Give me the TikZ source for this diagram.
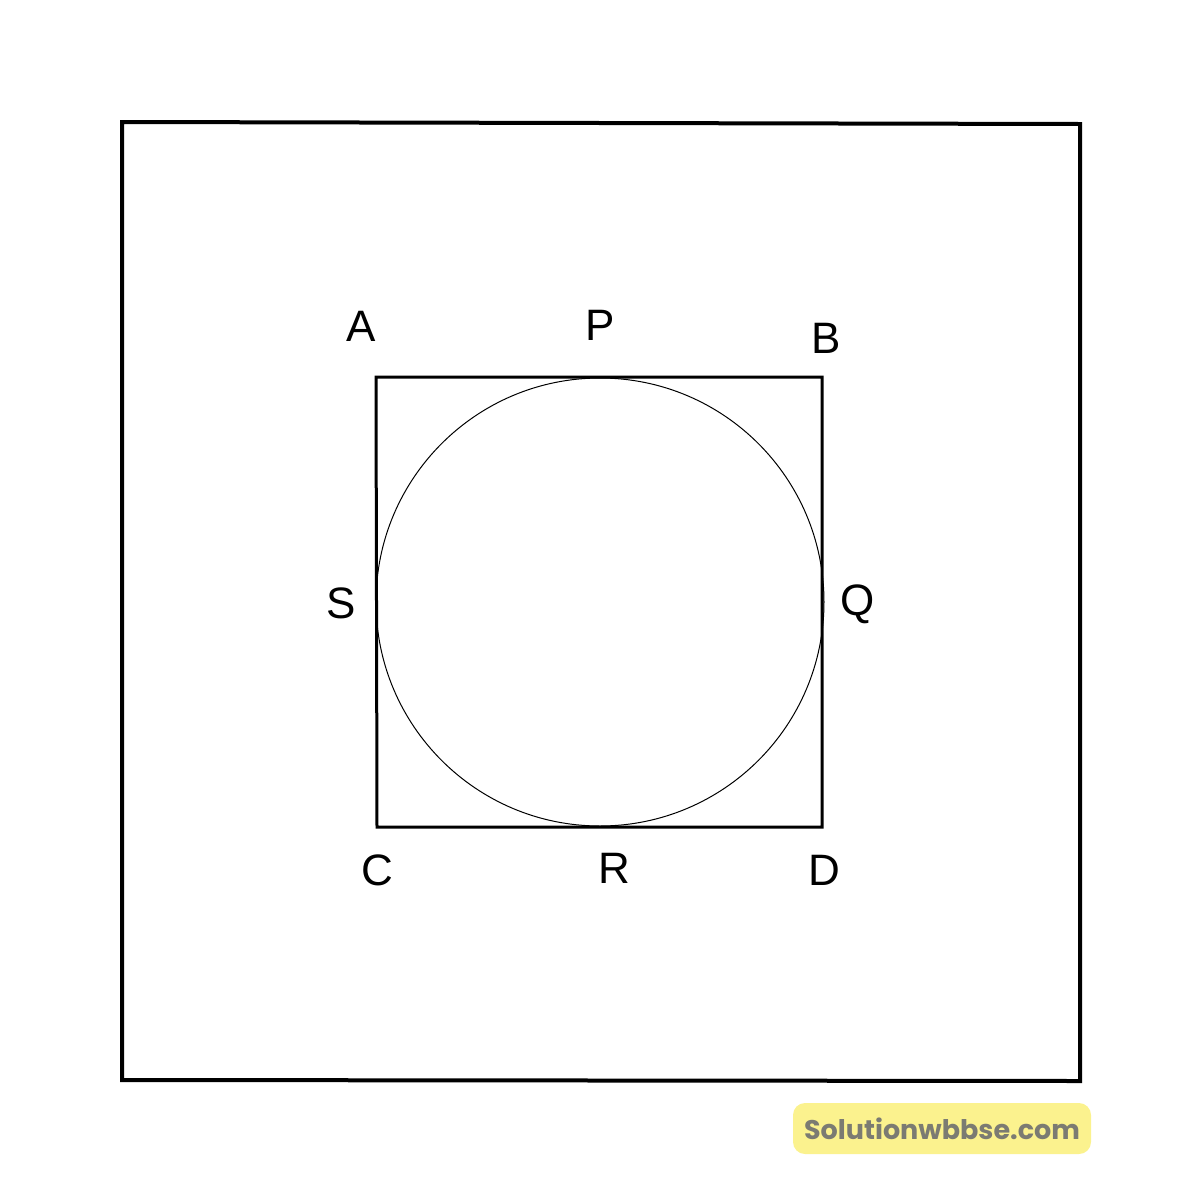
\documentclass[tikz,border=0pt]{standalone}
\usepackage{fontspec}
\setmainfont{Liberation Sans}
\newfontfamily\wmfont{Poppins}
\definecolor{wmyellow}{HTML}{FBF28E}
\definecolor{wmgray}{HTML}{7B7B72}
\tikzset{
  outerline/.style={line width=4pt, line join=miter},
  innerline/.style={line width=3pt, line join=miter},
  circleline/.style={line width=1pt},
  lbl/.style={font=\fontsize{44}{44}\selectfont, inner sep=0pt, anchor=center},
  wmbox/.style={fill=wmyellow, rounded corners=12pt, draw=none},
  wmtext/.style={font=\wmfont\bfseries\fontsize{27}{27}\selectfont, text=wmgray, inner sep=0pt}
}
\begin{document}
\begin{tikzpicture}[x=1pt,y=-1pt]
\useasboundingbox (0,0) rectangle (1200,1200);
% outer square
\draw[outerline] (122,122) -- (1080,124) -- (1080,1081) -- (122,1080) -- cycle;
% inner square
\coordinate (A) at (376,377);
\coordinate (B) at (822,377);
\coordinate (D) at (822,827);
\coordinate (C) at (377,827);
\draw[innerline] (A) -- (B) -- (D) -- (C) -- cycle;
% circle
\node[draw, circleline, circle, minimum size=448pt, inner sep=0pt] (O) at (600,602) {};
% labels
\node[lbl] (lA) at (361,326) {A};
\node[lbl] (lP) at (600,325) {P};
\node[lbl] (lB) at (826,338) {B};
\node[lbl] (lS) at (341,603) {S};
\node[lbl] (lQ) at (858,604) {Q};
\node[lbl] (lC) at (377,870) {C};
\node[lbl] (lR) at (614,868) {R};
\node[lbl] (lD) at (824,870) {D};
% watermark
\fill[wmbox] (793,1103) rectangle (1091,1154);
\node[wmtext] (wm) at (942,1129) {Solutionwbbse.com};
\end{tikzpicture}
\end{document}
